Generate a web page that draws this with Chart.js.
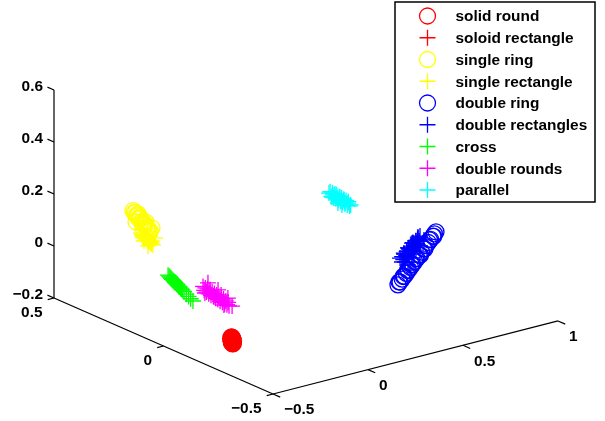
<!DOCTYPE html>
<html>
<head>
<meta charset="utf-8">
<style>
    html, body { margin: 0; background: #fff; }
    canvas { display: block; }
</style>
<script src="https://cdn.jsdelivr.net/npm/chart.js@4"></script>
</head>
<body>
<canvas id="chart" width="605" height="421"></canvas>
<script>
const seriesNames = ["solid round", "soloid rectangle", "single ring", "single rectangle", "double ring", "double rectangles", "cross", "double rounds", "parallel"];
const seriesColors = ["#ff0000", "#ff0000", "#ffff00", "#ffff00", "#0000ff", "#0000ff", "#00ff00", "#ff00ff", "#00ffff"];
const seriesMarkers = ["circle", "cross", "circle", "cross", "circle", "cross", "cross", "cross", "cross"];

// depth can't be read from a single view, so each series sits on one y plane
const seriesY = [-0.3, -0.3, 0.2, 0.2, 0, 0, 0, 0, 0];

const solidRoundX = [-.491, -.489, -.487, -.485, -.483, -.481, -.490, -.488, -.486, -.484, -.482, -.480, -.489, -.487, -.485, -.483, -.481, -.479, -.486, -.484, -.482, -.480, -.478, -.488];
const solidRoundZ = [-.060, -.056, -.061, -.058, -.063, -.066, -.066, -.069, -.066, -.070, -.072, -.070, -.073, -.075, -.072, -.077, -.078, -.076, -.080, -.082, -.084, -.081, -.083, -.079];

const solidRectX = [-.496, -.493, -.490, -.487, -.484, -.481, -.478, -.475, -.495, -.492, -.489, -.486, -.483, -.480, -.477, -.474, -.494, -.491, -.488, -.485, -.482, -.479, -.476, -.490, -.486, -.482, -.478, -.484];
const solidRectZ = [-.061, -.066, -.058, -.069, -.063, -.075, -.070, -.080, -.072, -.056, -.077, -.063, -.081, -.060, -.084, -.074, -.065, -.083, -.070, -.078, -.067, -.086, -.064, -.074, -.083, -.073, -.076, -.059];

const singleRingX = [-.430, -.424, -.417, -.412, -.405, -.400, -.392, -.386, -.378, -.373, -.365, -.358, -.352, -.345, -.340, -.395, -.371, -.404, -.362, -.330, -.414, -.377];
const singleRingZ = [.234, .226, .224, .212, .209, .198, .195, .183, .179, .168, .165, .154, .151, .139, .138, .203, .175, .216, .177, .148, .187, .157];

const singleRectX = [-.388, -.384, -.380, -.376, -.372, -.368, -.365, -.361, -.357, -.354, -.350, -.346, -.342, -.338, -.334, -.331, -.378, -.370, -.362, -.355, -.347, -.339, -.377, -.362, -.351, -.372, -.330, -.341, -.314, -.325, -.356, -.383];
const singleRectZ = [.140, .133, .131, .125, .125, .118, .122, .112, .114, .105, .108, .098, .101, .091, .095, .087, .122, .128, .120, .112, .104, .097, .119, .123, .083, .106, .098, .119, .107, .082, .138, .151];

const doubleRingX = [.734, .745, .756, .767, .778, .789, .800, .811, .822, .834, .846, .858, .870, .882, .894, .906, .918, .926, .934, .740, .762, .784, .806, .828, .852, .876, .900, .922];
const doubleRingZ = [-.196, -.187, -.178, -.169, -.160, -.150, -.141, -.132, -.123, -.113, -.103, -.093, -.083, -.073, -.063, -.053, -.043, -.036, -.030, -.186, -.169, -.150, -.133, -.114, -.104, -.084, -.054, -.045];

const doubleRectX = [.756, .762, .768, .774, .780, .786, .792, .798, .804, .810, .816, .822, .828, .834, .840, .846, .850, .765, .777, .789, .801, .813, .825, .837, .787, .808, .771, .850, .829, .871, .808, .745, .766, .787, .808, .829, .839, .755, .797, .818, .850];
const doubleRectZ = [-.092, -.104, -.084, -.096, -.076, -.088, -.068, -.080, -.060, -.072, -.052, -.064, -.044, -.056, -.036, -.048, -.030, -.080, -.092, -.064, -.076, -.048, -.060, -.040, -.129, -.106, -.115, -.068, -.080, -.049, -.049, -.095, -.083, -.064, -.076, -.045, -.032, -.112, -.151, -.124, -.091];

const crossX = [-.476, -.470, -.465, -.460, -.455, -.450, -.445, -.440, -.435, -.430, -.425, -.420, -.415, -.410, -.405, -.400, -.392, -.380, -.368, -.357, -.345];
const crossZ = [.068, .063, .058, .053, .048, .044, .039, .034, .030, .025, .020, .015, .011, .006, .001, -.004, -.011, -.023, -.034, -.045, -.056];

const doubleRoundsX = [-.292, -.286, -.280, -.274, -.268, -.262, -.256, -.250, -.244, -.238, -.232, -.226, -.220, -.214, -.208, -.202, -.196, -.190, -.184, -.178, -.172, -.166, -.160, -.155, -.255, -.234, -.197, -.182, -.266, -.213, -.161, -.282, -.139];
const doubleRoundsZ = [-.010, -.026, -.018, -.035, -.024, -.044, -.032, -.052, -.040, -.058, -.048, -.068, -.056, -.075, -.064, -.084, -.072, -.090, -.078, -.098, -.088, -.104, -.096, -.110, -.030, -.061, -.061, -.102, -.001, -.038, -.079, -.037, -.114];

const parallelX = [.371, .377, .383, .389, .395, .401, .407, .413, .419, .425, .431, .437, .443, .449, .455, .461, .467, .473, .479, .485, .392, .413, .434, .455, .408, .429, .450, .471, .387, .418, .439];
const parallelZ = [.225, .229, .210, .222, .203, .215, .196, .208, .189, .201, .182, .194, .175, .187, .168, .180, .161, .173, .155, .158, .214, .198, .183, .171, .214, .199, .184, .168, .207, .178, .166];

const seriesX = [solidRoundX, solidRectX, singleRingX, singleRectX, doubleRingX, doubleRectX, crossX, doubleRoundsX, parallelX];
const seriesZ = [solidRoundZ, solidRectZ, singleRingZ, singleRectZ, doubleRingZ, doubleRectZ, crossZ, doubleRoundsZ, parallelZ];

const xTicks = [-0.5, 0, 0.5, 1];
const yTicks = [-0.5, 0, 0.5];
const zTicks = [-0.2, 0, 0.2, 0.4, 0.6];

const fontBold = 'bold 15.4px "Liberation Sans", Arial, sans-serif';
const markerRadius = 8;
const markerWidth = 1.3;

// fixed matlab style view, flattens (x, y, z) onto the two chart scales
const project = (x, y, z) => ({
    x: 258.5 + 190 * x - 219 * y,
    y: 151.35 + 48.7 * x + 96 * y + 260 * z
});

const axisLine = points => ({
    type: 'line',
    data: points.map(p => project(p[0], p[1], p[2])),
    borderColor: '#000',
    borderWidth: 1.2,
    pointRadius: 0,
    fill: false,
    parsing: false
});

const axisDatasets = () => {
    const sets = [
        axisLine([[-0.5, -0.5, -0.2], [1, -0.5, -0.2]]),
        axisLine([[-0.5, -0.5, -0.2], [-0.5, 0.5, -0.2]]),
        axisLine([[-0.5, 0.5, -0.2], [-0.5, 0.5, 0.6]])
    ];
    for(const t of xTicks) sets.push(axisLine([[t, -0.5, -0.2], [t, -0.533, -0.2]]));
    for(const t of yTicks) sets.push(axisLine([[-0.5, t, -0.2], [-0.533, t, -0.2]]));
    for(const t of zTicks) sets.push(axisLine([[-0.5, 0.5, t], [-0.5, 0.53, t]]));
    return sets;
};

const pointDatasets = () => seriesNames.map((name, i) => ({
    label: name,
    data: seriesX[i].map((x, j) => project(x, seriesY[i], seriesZ[i][j])),
    pointStyle: seriesMarkers[i],
    pointRadius: markerRadius,
    pointBorderColor: seriesColors[i],
    pointBackgroundColor: 'rgba(0,0,0,0)',
    pointBorderWidth: markerWidth,
    showLine: false
}));

const tickText = t => String(t).replace('-', '\u2212');

const axisLabels = {
    id: 'axisLabels',
    afterDraw(chart) {
        const { ctx, scales } = chart;
        const put = (t, p, dx, dy, align) => {
            ctx.textAlign = align;
            ctx.fillText(tickText(t), scales.x.getPixelForValue(p.x) + dx, scales.y.getPixelForValue(p.y) + dy);
        };
        ctx.save();
        ctx.font = fontBold;
        ctx.fillStyle = '#000';
        ctx.textBaseline = 'middle';
        for(const t of xTicks) put(t, project(t, -0.5, -0.2), 11, 16, 'left');
        for(const t of yTicks) put(t, project(-0.5, t, -0.2), -11.5, 15, 'right');
        for(const t of zTicks) put(t, project(-0.5, 0.5, t), -11, -3, 'right');
        ctx.restore();
    }
};

// the matlab legend box, sits top right over the axes
const legendBox = {
    id: 'legendBox',
    afterDraw(chart) {
        const ctx = chart.ctx;
        ctx.save();
        ctx.fillStyle = '#fff';
        ctx.fillRect(395, 2, 200, 200);
        ctx.strokeStyle = '#000';
        ctx.lineWidth = 1.5;
        ctx.strokeRect(395, 2, 200, 200);
        ctx.font = fontBold;
        ctx.textAlign = 'left';
        ctx.textBaseline = 'middle';
        seriesNames.forEach((name, i) => {
            const y = 16 + i * 21.75;
            ctx.strokeStyle = seriesColors[i];
            ctx.fillStyle = 'rgba(0,0,0,0)';
            ctx.lineWidth = markerWidth;
            Chart.helpers.drawPoint(ctx, { pointStyle: seriesMarkers[i], radius: markerRadius, rotation: 0, borderWidth: markerWidth }, 427.5, y);
            ctx.fillStyle = '#000';
            ctx.fillText(name, 455.5, y + 1);
        });
        ctx.restore();
    }
};

new Chart(document.getElementById('chart'), {
    type: 'scatter',
    data: { datasets: [...pointDatasets(), ...axisDatasets()] },
    options: {
        responsive: false,
        animation: false,
        layout: { padding: 0, autoPadding: false },
        plugins: { legend: { display: false }, tooltip: { enabled: false } },
        scales: {
            x: { type: 'linear', min: 0, max: 605, display: false },
            y: { type: 'linear', min: 0, max: 421, display: false }
        }
    },
    plugins: [axisLabels, legendBox]
});
</script>
</body>
</html>
